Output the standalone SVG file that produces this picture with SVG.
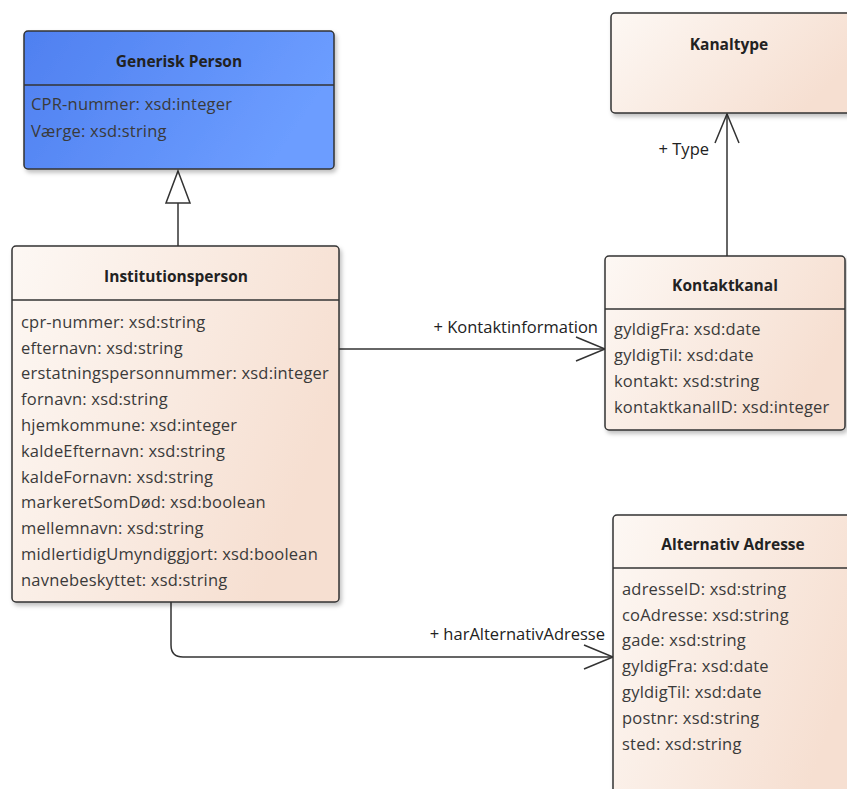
<svg xmlns="http://www.w3.org/2000/svg" width="847" height="789" viewBox="0 0 847 789">
<style>
.box{stroke:#333;stroke-width:1.5;filter:url(#sh)}
.div{stroke:#333;stroke-width:1.5}
.t{font-family:"Open Sans","Liberation Sans",sans-serif;font-size:15.5px;font-weight:bold;fill:#222;text-anchor:middle}
.a{font-family:"Open Sans","Liberation Sans",sans-serif;font-size:16.5px;fill:#3a3a3a;letter-spacing:0.2px}
.l{font-family:"Open Sans","Liberation Sans",sans-serif;font-size:16.5px;fill:#222;text-anchor:end}
.c{fill:none;stroke:#333;stroke-width:1.5}
</style>
<defs>
<linearGradient id="blue" x1="0" y1="0" x2="1" y2="0.3">
<stop offset="0" stop-color="#4f80f0"/><stop offset="1" stop-color="#6c9dff"/>
</linearGradient>
<linearGradient id="peach" x1="0" y1="0" x2="1" y2="0.4">
<stop offset="0" stop-color="#fdf8f4"/><stop offset="1" stop-color="#f6dfd1"/>
</linearGradient>
<filter id="sh" x="-5%" y="-5%" width="115%" height="115%">
<feDropShadow dx="2" dy="3" stdDeviation="2" flood-color="#000" flood-opacity="0.25"/>
</filter>
<marker id="open" markerWidth="34" markerHeight="30" refX="30" refY="13" orient="auto" markerUnits="userSpaceOnUse">
<path d="M1,1 L30,13 L1,25" fill="none" stroke="#333" stroke-width="1.5"/>
</marker>
</defs>
<g id="connectors">
<path class="c" d="M178,246 V203"/>
<path d="M178,171 L190,203 L166,203 Z" fill="#fff" stroke="#333" stroke-width="1.5"/>
<path class="c" d="M727,256 V114" marker-end="url(#open)"/>
<text class="l" x="709" y="155">+ Type</text>
<path class="c" d="M339,349 H605" marker-end="url(#open)"/>
<text class="l" x="598" y="333">+ Kontaktinformation</text>
<path class="c" d="M171,602 V645 Q171,657 183,657 H613" marker-end="url(#open)"/>
<text class="l" x="605" y="640">+ harAlternativAdresse</text>
</g>
<g id="generisk-person">
<rect class="box" x="24" y="31" width="310" height="138" rx="4" fill="url(#blue)"/>
<line class="div" x1="24" y1="85" x2="334" y2="85"/>
<text class="t" x="179" y="67">Generisk Person</text>
<text class="a" x="31" y="110">CPR-nummer: xsd:integer</text>
<text class="a" x="31" y="137">Værge: xsd:string</text>
</g>
<g id="institutionsperson">
<rect class="box" x="12" y="246" width="327" height="356" rx="4" fill="url(#peach)"/>
<line class="div" x1="12" y1="300" x2="339" y2="300"/>
<text class="t" x="176" y="282">Institutionsperson</text>
<text class="a" x="21" y="328">cpr-nummer: xsd:string</text>
<text class="a" x="21" y="354">efternavn: xsd:string</text>
<text class="a" x="21" y="379">erstatningspersonnummer: xsd:integer</text>
<text class="a" x="21" y="405">fornavn: xsd:string</text>
<text class="a" x="21" y="431">hjemkommune: xsd:integer</text>
<text class="a" x="21" y="457">kaldeEfternavn: xsd:string</text>
<text class="a" x="21" y="483">kaldeFornavn: xsd:string</text>
<text class="a" x="21" y="508">markeretSomDød: xsd:boolean</text>
<text class="a" x="21" y="534">mellemnavn: xsd:string</text>
<text class="a" x="21" y="560">midlertidigUmyndiggjort: xsd:boolean</text>
<text class="a" x="21" y="586">navnebeskyttet: xsd:string</text>
</g>
<g id="kanaltype">
<rect class="box" x="611" y="13" width="250" height="100" rx="4" fill="url(#peach)"/>
<text class="t" x="729" y="50">Kanaltype</text>
</g>
<g id="kontaktkanal">
<rect class="box" x="605" y="256" width="240" height="174" rx="4" fill="url(#peach)"/>
<line class="div" x1="605" y1="309" x2="845" y2="309"/>
<text class="t" x="725" y="291">Kontaktkanal</text>
<text class="a" x="614" y="335">gyldigFra: xsd:date</text>
<text class="a" x="614" y="361">gyldigTil: xsd:date</text>
<text class="a" x="614" y="387">kontakt: xsd:string</text>
<text class="a" x="614" y="413">kontaktkanalID: xsd:integer</text>
</g>
<g id="alternativ-adresse">
<rect class="box" x="613" y="515" width="250" height="290" rx="4" fill="url(#peach)"/>
<line class="div" x1="613" y1="568" x2="863" y2="568"/>
<text class="t" x="733" y="550">Alternativ Adresse</text>
<text class="a" x="622" y="595">adresseID: xsd:string</text>
<text class="a" x="622" y="621">coAdresse: xsd:string</text>
<text class="a" x="622" y="646">gade: xsd:string</text>
<text class="a" x="622" y="672">gyldigFra: xsd:date</text>
<text class="a" x="622" y="698">gyldigTil: xsd:date</text>
<text class="a" x="622" y="724">postnr: xsd:string</text>
<text class="a" x="622" y="750">sted: xsd:string</text>
</g>
</svg>
